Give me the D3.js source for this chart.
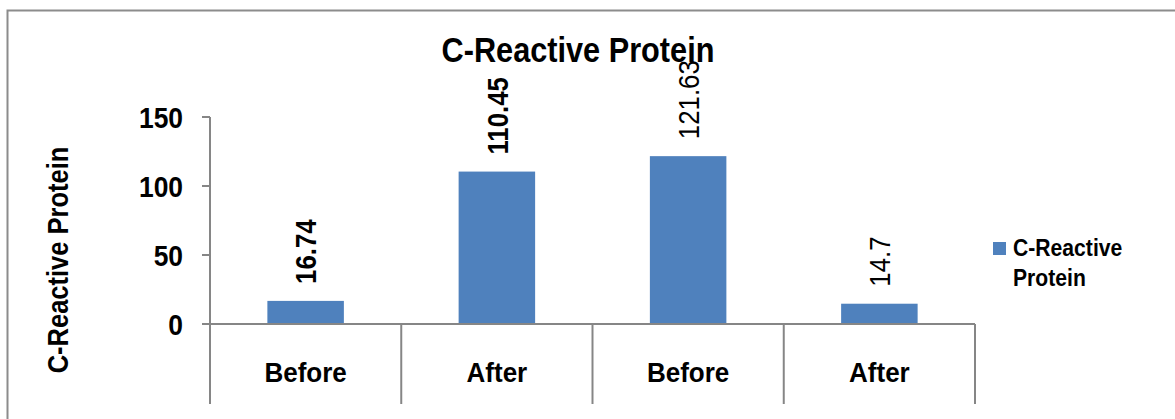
<!DOCTYPE html>
<html>
<head>
<meta charset="utf-8">
<script src="https://cdn.jsdelivr.net/npm/d3@7"></script>
<style>
    body { margin: 0; background: #fff; }
    svg text { font-family: "Liberation Sans", Arial, sans-serif; fill: #000; }
</style>
</head>
<body>
<div id="grafico"></div>
<script>
// datos del grafico
const categorias = ["Before", "After", "Before", "After"];
const valores = [16.74, 110.45, 121.63, 14.7];
const etiquetas = ["16.74", "110.45", "121.63", "14.7"];
const etiquetaNegrita = [true, true, false, false];
const ticksY = [0, 50, 100, 150];
const serie = "C-Reactive Protein";

const ancho = 1175, alto = 419;
const colorBarra = "#4f81bd";
const colorEje = "#868686";

const svg = d3.select("#grafico").append("svg")
    .attr("width", ancho)
    .attr("height", alto);

// marco del grafico
svg.append("rect")
    .attr("x", 7.5).attr("y", 10.5)
    .attr("width", 1180).attr("height", 420)
    .attr("fill", "none")
    .attr("stroke", "#8c8c8c")
    .attr("stroke-width", 2);

const x = d3.scaleBand()
    .domain(d3.range(categorias.length))
    .range([210, 975])
    .padding(0);

const y = d3.scaleLinear()
    .domain([0, 150])
    .range([324, 117]);

const anchoBarra = x.bandwidth() * 0.4;

// no hay fuente estrecha instalada, se comprime el texto en horizontal
const texto = (padre, px, py, rot, sx, cadena) => padre.append("text")
    .attr("transform", `translate(${px},${py}) rotate(${rot}) scale(${sx},1)`)
    .text(cadena);

// titulo
texto(svg, 578, 62, 0, 0.877, serie)
    .attr("text-anchor", "middle")
    .style("font-size", "35px")
    .style("font-weight", "bold");

// eje Y
svg.selectAll("line.tickY")
    .data(ticksY)
    .enter().append("line")
    .attr("class", "tickY")
    .attr("x1", 202).attr("x2", 210)
    .attr("y1", d => y(d)).attr("y2", d => y(d))
    .attr("stroke", colorEje).attr("stroke-width", 2);

ticksY.forEach(t => {
    texto(svg, 183, y(t), 0, 0.88, t)
        .attr("text-anchor", "end")
        .attr("dy", "0.36em")
        .style("font-size", "30px")
        .style("font-weight", "bold");
});

svg.append("line")
    .attr("x1", 210).attr("x2", 210)
    .attr("y1", y(150)).attr("y2", 404)
    .attr("stroke", colorEje).attr("stroke-width", 2);

// titulo eje Y
texto(svg, 68, 260, -90, 0.85, serie)
    .attr("text-anchor", "middle")
    .style("font-size", "30px")
    .style("font-weight", "bold");

// barras
svg.selectAll("rect.barra")
    .data(valores)
    .enter().append("rect")
    .attr("class", "barra")
    .attr("x", (d, i) => x(i) + (x.bandwidth() - anchoBarra) / 2)
    .attr("y", d => y(d))
    .attr("width", anchoBarra)
    .attr("height", d => y(0) - y(d))
    .attr("fill", colorBarra);

// eje X y separadores de categorias
svg.append("line")
    .attr("x1", 202).attr("x2", 975)
    .attr("y1", y(0)).attr("y2", y(0))
    .attr("stroke", colorEje).attr("stroke-width", 2);

svg.selectAll("line.separador")
    .data(d3.range(1, categorias.length + 1))
    .enter().append("line")
    .attr("class", "separador")
    .attr("x1", i => i < categorias.length ? x(i) : x.range()[1])
    .attr("x2", i => i < categorias.length ? x(i) : x.range()[1])
    .attr("y1", y(0)).attr("y2", 404)
    .attr("stroke", colorEje).attr("stroke-width", 2);

categorias.forEach((c, i) => {
    texto(svg, x(i) + x.bandwidth() / 2, 382, 0, 0.93, c)
        .attr("text-anchor", "middle")
        .style("font-size", "28px")
        .style("font-weight", "bold");
});

// etiquetas de valores
valores.forEach((v, i) => {
    texto(svg, x(i) + x.bandwidth() / 2, y(v) - 17, -90, 0.86, etiquetas[i])
        .attr("dy", "0.36em")
        .style("font-size", "30px")
        .style("font-weight", etiquetaNegrita[i] ? "bold" : "normal");
});

// leyenda
const leyenda = svg.append("g");
leyenda.append("rect")
    .attr("x", 993).attr("y", 242)
    .attr("width", 13).attr("height", 13)
    .attr("fill", colorBarra);
texto(leyenda, 1013, 256, 0, 0.92, "C-Reactive")
    .style("font-size", "23px").style("font-weight", "bold");
texto(leyenda, 1013, 286, 0, 0.92, "Protein")
    .style("font-size", "23px").style("font-weight", "bold");
</script>
</body>
</html>
